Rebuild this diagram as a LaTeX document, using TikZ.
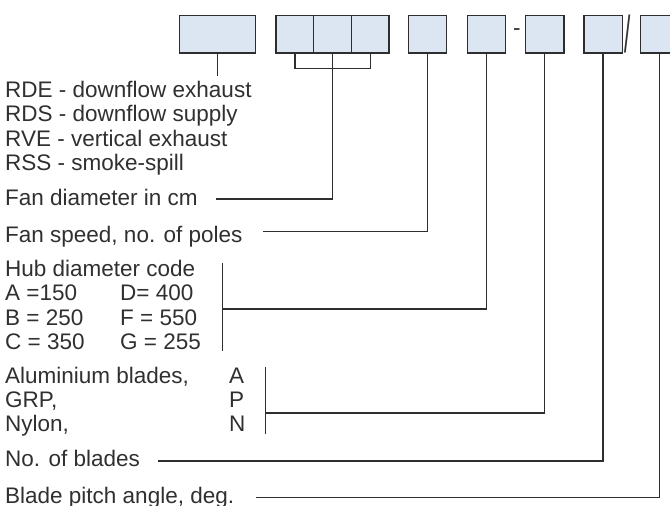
\documentclass[tikz,border=0pt]{standalone}
\usepackage{fontspec}
\setmainfont{Liberation Sans}
\definecolor{boxfill}{HTML}{DCE6F2}
\definecolor{ink}{HTML}{2E2E2E}
\definecolor{txt}{HTML}{303030}
\begin{document}
\begin{tikzpicture}[x=1pt,y=-1pt,
  cell/.style={draw=ink,fill=boxfill,line width=1.3pt,inner sep=0pt,minimum height=37.7pt},
  lbl/.style={anchor=base west,inner sep=0pt,text=txt,font=\fontsize{22.5}{27}\selectfont},
  conn/.style={draw=ink,line width=1.2pt}]
\clip (0,0) rectangle (670,506);
\fill[white] (0,0) rectangle (670,506);
% code boxes
\node[cell,minimum width=76.4pt] (b1) at (217.5,34) {};
\node[cell,minimum width=37.7pt] (b2a) at (294.9,34) {};
\node[cell,minimum width=37.9pt] (b2b) at (332.7,34) {};
\node[cell,minimum width=37.4pt] (b2c) at (370.4,34) {};
\node[cell,minimum width=38pt] (b3) at (427.7,34) {};
\node[cell,minimum width=38.3pt] (b4) at (486.5,34) {};
\node[cell,minimum width=38.3pt] (b5) at (544.8,34) {};
\node[cell,minimum width=38.3pt] (b6) at (603,34) {};
\node[cell,minimum width=38.3pt] (b7) at (659.7,34) {};
\node[inner sep=0pt,text=txt,font=\fontsize{22.5}{27}\selectfont] (dash) at (516.8,32) {-};
\node[inner sep=0pt,text=txt,font=\fontsize{22.5}{27}\selectfont] (slash) at (628,34) {\scalebox{1}[2.3]{/}};
% labels
\node[lbl] (t1) at (5,97.5) {RDE - downflow exhaust};
\node[lbl] (t2) at (5,121.8) {RDS - downflow supply};
\node[lbl] (t3) at (5,146) {RVE - vertical exhaust};
\node[lbl] (t4) at (5,170) {RSS - smoke-spill};
\node[lbl] (diam) at (5,205.5) {Fan diameter in cm};
\node[lbl] (speed) at (5,242.5) {Fan speed, no. of poles};
\node[lbl] (hub) at (5,276.7) {Hub diameter code};
\node[lbl] (ha) at (5,300.7) {A =150};
\node[lbl] (hd) at (120,300.7) {D= 400};
\node[lbl] (hb) at (5,325) {B = 250};
\node[lbl] (hf) at (120,325) {F = 550};
\node[lbl] (hc) at (5,349.3) {C = 350};
\node[lbl] (hg) at (120,349.3) {G = 255};
\node[lbl] (alu) at (5,383.3) {Aluminium blades,};
\node[lbl] (grp) at (5,407.3) {GRP,};
\node[lbl] (nyl) at (5,431.7) {Nylon,};
\node[lbl] (ma) at (229,383.3) {A};
\node[lbl] (mp) at (229,407.3) {P};
\node[lbl] (mn) at (229,431.7) {N};
\node[lbl] (nob) at (5,466.7) {No. of blades};
\node[lbl] (pitch) at (5,503.3) {Blade pitch angle, deg.};
% connector end points
\coordinate (e1) at (217.5,76);
\coordinate (ediam) at (216,199);
\coordinate (espeed) at (263,231.7);
\coordinate (hubtop) at (222.7,262.7);
\coordinate (hubbot) at (222.7,350.7);
\coordinate (hubmid) at (222.7,309);
\coordinate (mattop) at (265.3,366.7);
\coordinate (matbot) at (265.3,434.3);
\coordinate (matmid) at (265.3,413);
\coordinate (enob) at (158,461);
\coordinate (epitch) at (256,497.7);
% connectors
\draw[conn] (b1.south) -- (e1);
\draw[conn] (b2a.south) -- ++(0,15.3) -| (b2c.south);
\draw[conn] (b2b.south) |- (ediam);
\draw[conn] (b3.south) |- (espeed);
\draw[conn] (hubtop) -- (hubbot);
\draw[conn] (b4.south) |- (hubmid);
\draw[conn] (mattop) -- (matbot);
\draw[conn] (b5.south) |- (matmid);
\draw[conn] (b6.south) |- (enob);
\draw[conn] (b7.south) |- (epitch);
\end{tikzpicture}
\end{document}
